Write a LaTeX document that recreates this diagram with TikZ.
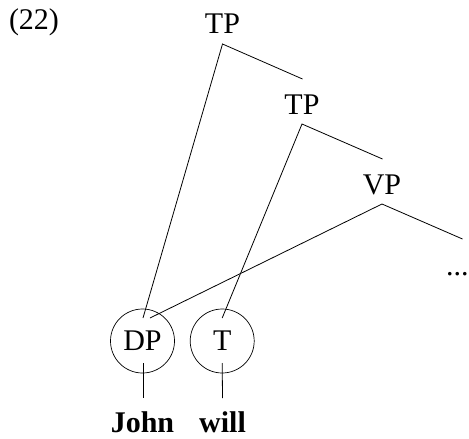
\documentclass[tikz,border=0pt]{standalone}
\usepackage{fontspec}
\setmainfont{Liberation Serif}
\usetikzlibrary{positioning, calc}

\begin{document}
\begin{tikzpicture}[x=1pt, y=-1pt, font=\fontsize{30}{36}\selectfont,
    lab/.style={inner sep=0pt, anchor=base},
    ring/.style={draw, line width=0.7pt, circle, minimum size=64pt, inner sep=0pt},
    branch/.style={line width=0.8pt}]
  \useasboundingbox (0,0) rectangle (469,439);

  % Example number
  \node[lab] (exnum) at (34,30) {(22)};

  % Projections
  \node[lab] (tpa) at (222.5,34) {TP};
  \node[lab] (tpb) at (302,114) {TP};
  \node[lab] (vp) at (382,194) {VP};
  \node[lab, anchor=base west] (dots) at (446,275) {...};

  % Circled heads and words
  \node[ring] (dp) at (142.5,341) {DP};
  \node[ring] (t) at (222.2,341) {T};
  \node[lab] (john) at (142.5,432) {\textbf{John}};
  \node[lab] (will) at (222.5,432) {\textbf{will}};

  % Branch points
  \coordinate (tpa-a) at ($(tpa.base)+(0,10)$);
  \coordinate (tpb-a) at ($(tpb.base)+(0,10)$);
  \coordinate (vp-a) at ($(vp.base)+(0,10)$);
  \coordinate (tpb-r) at ($(tpb.base)+(0.5,-35)$);
  \coordinate (vp-r) at ($(vp.base)+(0.5,-35)$);
  \coordinate (dots-r) at ($(dots.base west)+(16.5,-36)$);

  % Tree
  \draw[branch] (tpb-r) -- (tpa-a) -- ($(dp.center)+(0.5,-23)$);
  \draw[branch] (vp-r) -- (tpb-a) -- ($(t.center)+(0,-23)$);
  \draw[branch] (dots-r) -- (vp-a) -- ($(dp.center)+(7.5,-23)$);

  % Leaves
  \draw[branch] ($(dp.center)+(0.5,22)$) -- ($(john.base)+(0.5,-34)$);
  \draw[branch] ($(t.center)+(0,22)$) -- ($(will.base)+(0,-34)$);
\end{tikzpicture}
\end{document}
